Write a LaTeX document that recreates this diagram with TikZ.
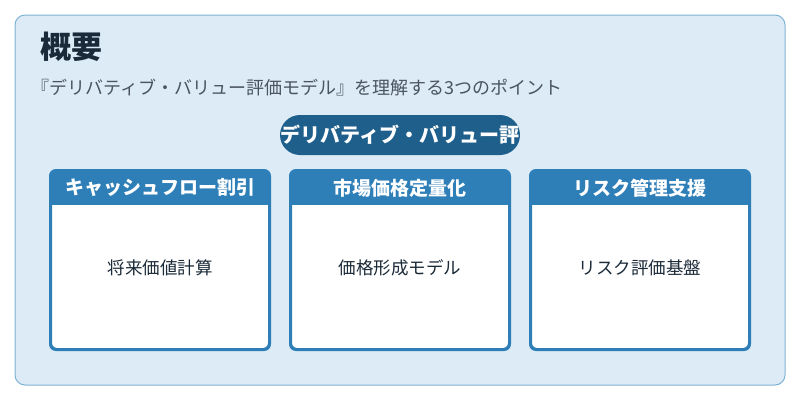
\documentclass[tikz,border=0pt]{standalone}
\usepackage{fontspec}
\setmainfont{Noto Sans CJK JP}
\usetikzlibrary{positioning}
\definecolor{panelbg}{HTML}{DCEBF6}
\definecolor{panelline}{HTML}{7FB3D5}
\definecolor{pillblue}{HTML}{1F5F8B}
\definecolor{cardblue}{HTML}{2E7FB8}
\definecolor{titletext}{HTML}{1B2A38}
\definecolor{subtext}{HTML}{4A5560}
\begin{document}
\begin{tikzpicture}[x=1pt,y=-1pt]
\tikzset{card/.style={draw=cardblue,line width=2pt,fill=white,rounded corners=6pt,minimum width=218pt,minimum height=178pt,inner sep=0pt}}
\tikzset{cardhead/.style={text=white,font=\bfseries\fontsize{19}{22}\selectfont}}
\tikzset{cardbody/.style={text=titletext,font=\fontsize{17.5}{20}\selectfont}}
\useasboundingbox (0,0) rectangle (800,400);
 \draw[panelline,fill=panelbg,rounded corners=10pt,line width=1pt] (15,15) rectangle (785,385);
 \node[anchor=west,inner sep=0pt,text=titletext,font=\bfseries\fontsize{31}{36}\selectfont] (title) at (40,47) {概要};
 \node[anchor=west,inner sep=0pt,text=subtext,font=\fontsize{18}{21}\selectfont] (sub) at (31,88) {『デリバティブ・バリュー評価モデル』を理解する3つのポイント};
 \node[fill=pillblue,rounded corners=20pt,minimum width=240pt,minimum height=40pt,inner sep=0pt,text=white,font=\bfseries\fontsize{20}{23}\selectfont] (pill) at (400,135) {デリバティブ・バリュー評};
 \foreach \x/\name/\head/\body in {160/c1/キャッシュフロー割引/将来価値計算, 400/c2/市場価格定量化/価格形成モデル, 640/c3/リスク管理支援/リスク評価基盤}{
  \node[card] (\name) at (\x,260) {};
  \begin{scope}
   \clip[rounded corners=6pt] (\name.north west) rectangle (\name.south east);
   \fill[cardblue] (\name.north west) rectangle ([yshift=-35pt]\name.north east);
  \end{scope}
  \draw[cardblue,line width=2pt,rounded corners=6pt] (\name.north west) rectangle (\name.south east);
  \node[cardhead] (\name h) at ([yshift=-18pt]\name.north) {\head};
  \node[cardbody] (\name b) at (\x,268) {\body};
 }
\end{tikzpicture}
\end{document}
